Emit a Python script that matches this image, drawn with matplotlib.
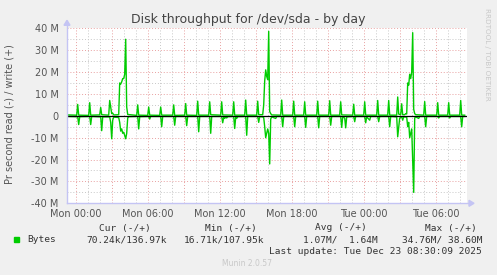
import matplotlib
matplotlib.use("Agg")
import numpy as np
from matplotlib import pyplot as plt

# Data: minutes from Mon 00:00, values in MB/s
write_t = [-40, 0, 5, 10, 15, 65, 70, 75, 120, 125, 130, 165, 170, 175, 180, 185, 190,
           215, 220, 225, 230, 235, 240, 245, 250, 255, 260, 305, 310, 315, 360, 365, 370,
           420, 425, 430, 485, 490, 495, 545, 550, 555, 605, 610, 615, 665, 670, 675,
           725, 730, 735, 785, 790, 795, 845, 850, 855, 905, 910, 915, 935, 940, 945,
           950, 955, 960, 965, 970, 975, 980, 1025, 1030, 1035, 1085, 1090, 1095,
           1140, 1145, 1150, 1205, 1210, 1215, 1265, 1270, 1275, 1320, 1325, 1330,
           1385, 1390, 1395, 1440, 1445, 1450, 1505, 1510, 1515, 1560, 1565, 1570,
           1605, 1610, 1615, 1625, 1630, 1635, 1645, 1650, 1655, 1660, 1665, 1670,
           1675, 1680, 1685, 1690, 1695, 1700, 1740, 1745, 1750, 1805, 1810, 1815,
           1860, 1865, 1870, 1920, 1925, 1930, 1945]
write_v = [0.4, 0.3, 0.2, 5.2, 0.3, 0.2, 6.0, 0.3, 0.4, 3.8, 0.5, 0.3, 7.0, 4.0, 1.0, 1.2, 0.4,
           0.5, 15.0, 14.5, 15.5, 17.0, 17.0, 19.0, 35.0, 4.0, 0.6, 0.2, 5.0, 0.3, 0.2, 4.0, 0.3,
           0.2, 4.0, 0.3, 0.3, 5.0, 0.2, 0.3, 5.6, 0.3, 0.2, 6.7, 0.3, 0.3, 6.4, 0.5,
           0.3, 6.4, 0.4, 0.3, 6.4, 0.3, 0.3, 7.2, 0.3, 0.3, 6.7, 0.5, 0.5, 5.0, 16.0,
           21.0, 18.0, 16.5, 38.6, 2.0, 1.0, 0.4, 0.3, 7.2, 0.3, 0.3, 6.7, 0.3,
           0.3, 6.4, 0.3, 0.3, 6.7, 0.3, 0.3, 6.9, 0.3, 0.3, 6.4, 0.4,
           0.3, 5.3, 0.3, 0.3, 6.4, 0.3, 0.3, 7.0, 0.3, 0.3, 7.0, 0.3,
           0.3, 8.6, 0.8, 0.5, 5.5, 0.5, 0.5, 1.0, 0.8, 15.0, 14.0, 19.0,
           17.0, 20.0, 38.0, 3.0, 1.0, 0.5, 0.3, 6.5, 0.3, 0.3, 6.0, 0.3,
           0.3, 6.0, 0.3, 0.3, 7.0, 0.3, 0.3]

read_t = [-40, 0, 10, 15, 20, 70, 75, 80, 125, 130, 135, 170, 175, 180, 185, 190,
          215, 220, 225, 230, 235, 240, 245, 250, 255, 260, 265, 310, 315, 320, 365, 370, 375,
          425, 430, 435, 490, 495, 500, 550, 555, 560, 610, 615, 620, 670, 675, 680,
          730, 735, 740, 745, 750, 755, 760, 790, 795, 800, 805, 810, 850, 855, 860,
          910, 915, 920, 935, 940, 945, 950, 955, 960, 965, 970, 975, 980, 1000, 1005,
          1030, 1035, 1040, 1090, 1095, 1100, 1145, 1150, 1155, 1210, 1215, 1220,
          1270, 1275, 1280, 1325, 1330, 1335, 1345, 1350, 1355, 1390, 1395, 1400,
          1445, 1450, 1455, 1470, 1475, 1510, 1515, 1520, 1565, 1570, 1575,
          1605, 1610, 1620, 1630, 1635, 1640, 1655, 1660, 1665, 1670, 1675, 1680,
          1690, 1695, 1700, 1715, 1720, 1745, 1750, 1755, 1810, 1815, 1820,
          1865, 1870, 1875, 1925, 1930, 1935, 1945]
read_v = [-0.3, -0.4, -0.5, -4.0, -0.4, -0.3, -4.0, -0.3, -0.5, -6.8, -0.5, -0.5, -3.0, -10.5, -2.0, -0.6,
          -0.8, -3.0, -7.0, -6.0, -8.0, -7.5, -9.0, -10.5, -8.0, -1.0, -0.4, -0.3, -6.0, -0.4, -0.3, -1.5, -0.3,
          -0.3, -5.0, -0.3, -0.3, -4.3, -0.3, -0.3, -4.5, -0.3, -0.3, -7.3, -0.3, -0.3, -8.0, -0.3,
          -0.3, -3.2, -0.8, -1.2, -0.5, -1.0, -0.4, -0.3, -5.8, -0.6, -1.2, -0.4, -0.3, -8.9, -0.3,
          -0.3, -3.0, -0.4, -0.5, -0.8, -5.0, -10.0, -8.0, -6.0, -8.0, -22.0, -1.5, -0.5, -1.2, -0.3,
          -0.3, -5.0, -0.3, -0.3, -5.0, -0.3, -0.3, -5.3, -0.3, -0.3, -5.5, -0.3,
          -0.3, -4.3, -0.3, -0.3, -5.3, -0.5, -1.0, -5.5, -0.5, -0.3, -2.7, -0.3,
          -0.3, -3.2, -0.5, -2.0, -0.3, -0.3, -2.7, -0.3, -0.3, -5.0, -0.3,
          -0.5, -9.6, -1.0, -0.5, -2.0, -0.5, -0.6, -5.0, -3.0, -10.0, -8.0, -6.0,
          -35.0, -1.0, -0.5, -1.2, -0.3, -0.3, -5.0, -0.3, -0.3, -1.0, -0.3,
          -0.3, -1.0, -0.3, -0.3, -5.0, -0.3, -0.3]

xtick_pos = [0, 360, 720, 1080, 1440, 1800]
xtick_labels = ["Mon 00:00", "Mon 06:00", "Mon 12:00", "Mon 18:00", "Tue 00:00", "Tue 06:00"]
ytick_pos = [40, 30, 20, 10, 0, -10, -20, -30, -40]
ytick_labels = ["40 M", "30 M", "20 M", "10 M", "0", "-10 M", "-20 M", "-30 M", "-40 M"]

legend_headers = ["Cur (-/+)", "Min (-/+)", "Avg (-/+)", "Max (-/+)"]
legend_values = ["70.24k/136.97k", "16.71k/107.95k", "1.07M/  1.64M", "34.76M/ 38.60M"]

W, H = 497, 275
fig = plt.figure(figsize=(W / 100, H / 100), dpi=100, facecolor="#f0f0f0")

x0, x1, ytop, ybot = 67, 467, 28.3, 203.3
ax = fig.add_axes([x0 / W, 1 - ybot / H, (x1 - x0) / W, (ybot - ytop) / H])
ax.set_facecolor("white")
ax.set_xlim(-43.5, 1956.5)
ax.set_ylim(-40, 40)

for s in ax.spines.values():
    s.set_visible(False)

# grid: minor grey every hour / 5M, major red every 3h / 10M
major_col, minor_col = "#e8a0a0", "#c8c8c8"
for m in range(0, 1960, 60):
    col = major_col if m % 180 == 0 else minor_col
    ax.axvline(m, color=col, lw=0.7, ls=(0, (1, 2)), zorder=1)
for v in range(-40, 41, 5):
    col = major_col if v % 10 == 0 else minor_col
    ax.axhline(v, color=col, lw=0.7, ls=(0, (1, 2)), zorder=1)

ax.plot(write_t, write_v, color="#00cc00", lw=1, zorder=3)
ax.plot(read_t, read_v, color="#00cc00", lw=1, zorder=3)
ax.axhline(0, color="black", lw=0.9, zorder=4)

ax.set_xticks(xtick_pos)
ax.set_xticklabels(xtick_labels)
ax.set_yticks(ytick_pos)
ax.set_yticklabels(ytick_labels)
ax.tick_params(length=0, labelsize=7, colors="#555555", pad=4)
ax.tick_params(axis="y", pad=6)

# axis lines with arrows
acol = "#c4c4f4"
fig.add_artist(plt.Line2D([x0 / W, (x1 + 2) / W], [1 - ybot / H] * 2, color=acol, lw=1))
fig.add_artist(plt.Line2D([x0 / W] * 2, [1 - ybot / H, 1 - (ytop - 5) / H], color=acol, lw=1))
fig.add_artist(plt.Polygon([[(x1 + 2) / W, 1 - (ybot - 3) / H], [(x1 + 2) / W, 1 - (ybot + 3) / H],
                            [(x1 + 7) / W, 1 - ybot / H]], color=acol, transform=fig.transFigure))
fig.add_artist(plt.Polygon([[(x0 - 3) / W, 1 - (ytop - 3) / H], [(x0 + 3) / W, 1 - (ytop - 3) / H],
                            [x0 / W, 1 - (ytop - 8) / H]], color=acol, transform=fig.transFigure))

def fx(px):
    return px / W

def fy(py):
    return 1 - py / H

fig.text(fx(248), fy(19), "Disk throughput for /dev/sda - by day", ha="center", va="center",
         fontsize=9, color="#444444")
fig.text(fx(10), fy(114), "Pr second read (-) / write (+)", rotation=90, ha="center", va="center",
         fontsize=7, color="#555555")
fig.text(fx(487), fy(54), "RRDTOOL / TOBI OETIKER", rotation=-90, ha="center", va="center",
         fontsize=5.2, color="#c8c8c8")

mono = "DejaVu Sans Mono"
hdr_right = [151, 257, 367, 477]
val_right = [167, 264, 378, 483]
for hx, h in zip(hdr_right, legend_headers):
    fig.text(fx(hx), fy(228), h, ha="right", va="center", fontsize=6.8, family=mono, color="#333333")
for vx, v in zip(val_right, legend_values):
    fig.text(fx(vx), fy(240), v, ha="right", va="center", fontsize=6.8, family=mono, color="#333333")
fig.add_artist(plt.Rectangle((fx(14), fy(242)), 5 / W, 5 / H, color="#00cc00", transform=fig.transFigure))
fig.text(fx(27), fy(240), "Bytes", ha="left", va="center", fontsize=6.8, family=mono, color="#333333")
fig.text(fx(482), fy(251), "Last update: Tue Dec 23 08:30:09 2025", ha="right", va="center",
         fontsize=6.8, family=mono, color="#333333")
fig.text(fx(247), fy(264), "Munin 2.0.57", ha="center", va="center", fontsize=5.5, color="#c8c8c8")

fig.savefig("out.png", dpi=100, facecolor=fig.get_facecolor())
